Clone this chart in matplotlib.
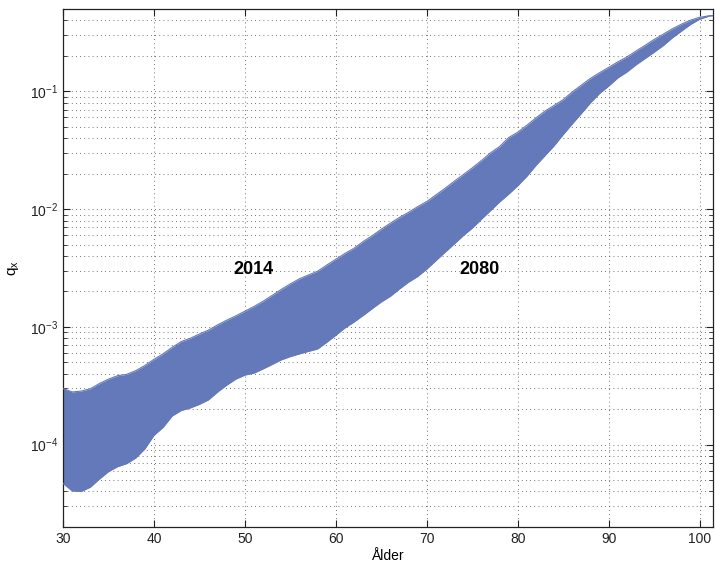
import numpy as np
import matplotlib
matplotlib.use("Agg")
import matplotlib.pyplot as plt
from matplotlib.ticker import LogLocator, NullFormatter

plt.rcParams['font.family'] = ['Liberation Sans', 'DejaVu Sans']
plt.rcParams['mathtext.fontset'] = 'custom'
plt.rcParams['mathtext.rm'] = 'Liberation Sans'
plt.rcParams['mathtext.it'] = 'Liberation Sans:italic'

# --- data ---
ages = list(range(30, 103))

# death probability q_x, projection year 2014 (upper edge of the band)
qx_2014 = [
    3.0e-4, 2.8e-4, 2.85e-4, 2.98e-4, 3.3e-4, 3.6e-4, 3.85e-4, 3.95e-4, 4.25e-4, 4.7e-4,
    5.3e-4, 5.9e-4, 6.7e-4, 7.5e-4, 8.0e-4, 8.7e-4, 9.4e-4, 1.04e-3, 1.14e-3, 1.24e-3,
    1.36e-3, 1.49e-3, 1.65e-3, 1.85e-3, 2.08e-3, 2.32e-3, 2.56e-3, 2.76e-3, 2.97e-3, 3.35e-3,
    3.75e-3, 4.2e-3, 4.65e-3, 5.3e-3, 5.95e-3, 6.75e-3, 7.6e-3, 8.5e-3, 9.4e-3, 1.05e-2,
    1.16e-2, 1.32e-2, 1.5e-2, 1.72e-2, 1.96e-2, 2.24e-2, 2.58e-2, 3.0e-2, 3.4e-2, 4.05e-2,
    4.5e-2, 5.15e-2, 5.95e-2, 6.8e-2, 7.6e-2, 8.5e-2, 9.9e-2, 0.113, 0.129, 0.144,
    0.160, 0.178, 0.196, 0.22, 0.246, 0.276, 0.306, 0.34, 0.372, 0.403,
    0.425, 0.438, 0.445,
]

# projection year 2080 (lower edge of the band)
qx_2080 = [
    4.7e-5, 4.05e-5, 4.0e-5, 4.35e-5, 5.1e-5, 5.9e-5, 6.5e-5, 6.9e-5, 7.7e-5, 9.2e-5,
    1.2e-4, 1.4e-4, 1.75e-4, 1.95e-4, 2.05e-4, 2.2e-4, 2.4e-4, 2.8e-4, 3.2e-4, 3.6e-4,
    3.9e-4, 4.05e-4, 4.4e-4, 4.8e-4, 5.25e-4, 5.6e-4, 5.9e-4, 6.2e-4, 6.5e-4, 7.4e-4,
    8.5e-4, 9.8e-4, 1.1e-3, 1.25e-3, 1.43e-3, 1.63e-3, 1.82e-3, 2.1e-3, 2.4e-3, 2.68e-3,
    3.1e-3, 3.65e-3, 4.3e-3, 5.05e-3, 5.95e-3, 6.9e-3, 8.2e-3, 9.7e-3, 1.15e-2, 1.34e-2,
    1.58e-2, 1.9e-2, 2.35e-2, 2.85e-2, 3.45e-2, 4.3e-2, 5.3e-2, 6.5e-2, 8.0e-2, 9.6e-2,
    0.111, 0.13, 0.146, 0.168, 0.19, 0.215, 0.245, 0.285, 0.325, 0.37,
    0.41, 0.435, 0.445,
]

# label text and where it sits (age, q_x)
year_labels = ["2014", "2080"]
label_pos = [(50.9, 3.1e-3), (75.8, 3.1e-3)]

BAND_COLOR = "#6479ba"

fig = plt.figure(figsize=(7.15, 5.66), dpi=100)
ax = fig.add_axes([0.0881, 0.069, 0.9095, 0.915])

ax.fill_between(ages, qx_2080, qx_2014, color=BAND_COLOR, linewidth=0, zorder=2)
ax.plot(ages, qx_2014, color=BAND_COLOR, lw=0.8, zorder=3)
ax.plot(ages, qx_2080, color=BAND_COLOR, lw=0.8, zorder=3)

for txt, (x, y) in zip(year_labels, label_pos):
    ax.text(x, y, txt, fontsize=13, fontweight='bold', ha='center', va='center', zorder=4)

ax.set_yscale('log')
ax.set_xlim(30, 101.5)
ax.set_ylim(2e-5, 0.5)
ax.set_xticks(range(30, 101, 10))
ax.yaxis.set_major_locator(LogLocator(base=10, numticks=10))
ax.yaxis.set_minor_locator(LogLocator(base=10, subs=np.arange(2, 10), numticks=20))
ax.yaxis.set_minor_formatter(NullFormatter())

# MATLAB-like dotted grid
dots = (0, (1, 4))
ax.grid(True, which='major', axis='both', linestyle=dots, color='#444444', lw=0.6, zorder=0)
ax.grid(True, which='minor', axis='y', linestyle=dots, color='#444444', lw=0.6, zorder=0)
ax.set_axisbelow(True)

ax.tick_params(which='both', direction='in', top=True, right=True, labelsize=10, colors='#222222')
ax.tick_params(which='major', length=5, width=0.8)
ax.tick_params(which='minor', length=3, width=0.6)
for s in ax.spines.values():
    s.set_linewidth(0.9)
    s.set_color('#222222')

ax.set_xlabel('Ålder', fontsize=10, labelpad=2)
ax.set_ylabel('$\\mathregular{q_x}$', fontsize=11, labelpad=6)

fig.savefig('out.png', dpi=100)
